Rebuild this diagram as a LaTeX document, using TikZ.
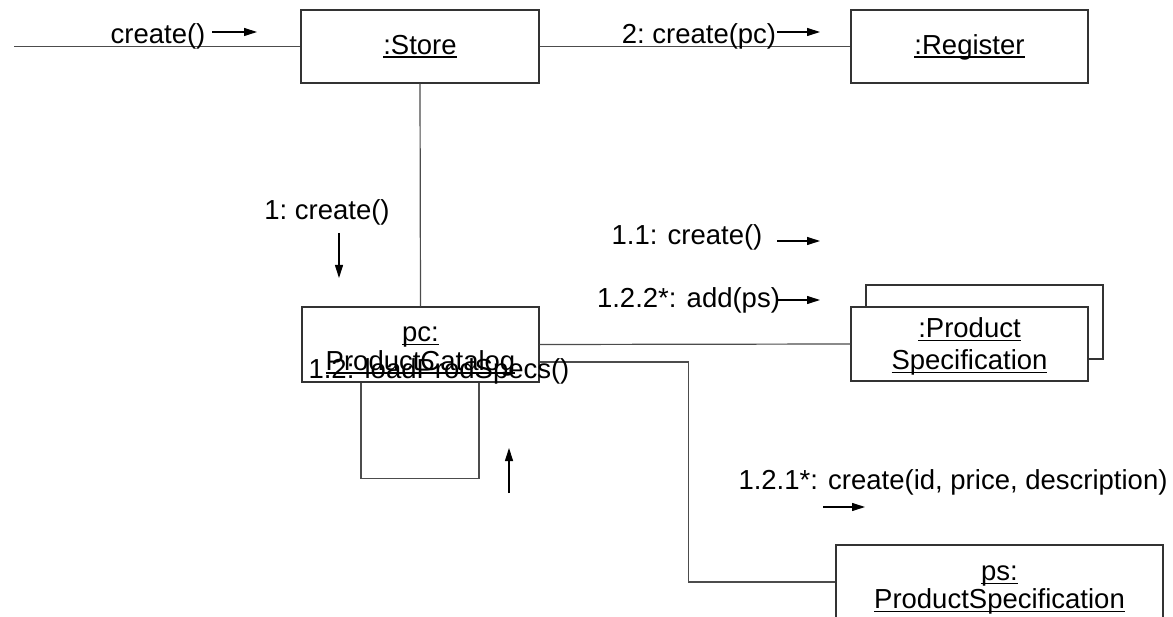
\documentclass[tikz,border=0pt]{standalone}
\usepackage{fontspec}
\setmainfont{Liberation Sans}
\usetikzlibrary{arrows.meta}

% object names are underlined at a fixed depth, through the descenders
\newcommand{\objname}[1]{\leavevmode\setbox0=\hbox{#1}\rlap{\rule[-3.5pt]{\wd0}{1.3pt}}\box0}
% name lowered a little inside its box (the box keeps its size)
\newcommand{\lowered}[2]{\raisebox{#1}[\height][\depth]{\begin{tabular}{@{}c@{}}#2\end{tabular}}}

\begin{document}
\begin{tikzpicture}[x=1pt, y=-1pt,
    every node/.style={font=\fontsize{27.5}{28}\selectfont, inner sep=0pt},
    obj/.style={draw=black!80, fill=white, line width=1.2pt, align=center},
    link/.style={draw=black!70, line width=1.2pt},
    msg/.style={-{Triangle[length=13pt,width=8pt]}, line width=1.1pt}]
    \useasboundingbox (0,0) rectangle (1173,617);

    % objects
    \node[obj, minimum width=238, minimum height=73] (store) at (420,46.5) {\lowered{-2pt}{\objname{:Store}}};
    \node[obj, minimum width=237, minimum height=73] (register) at (969.5,46.5) {\lowered{-2pt}{\objname{:Register}}};
    \node[obj, minimum width=237, minimum height=75] (pc) at (420.5,344.5)
        {\lowered{-6pt}{\objname{pc:}\\\objname{ProductCatalog}}};
    \node[obj, minimum width=237, minimum height=74] (specback) at (984.5,322) {};
    \node[obj, minimum width=237, minimum height=74] (spec) at (969.5,344)
        {\lowered{-4pt}{\objname{:Product}\\[4pt]\objname{Specification}}};
    \node[obj, minimum width=327, minimum height=74] (ps) at (999.5,582)
        {\lowered{-7pt}{\objname{ps:}\\\objname{ProductSpecification}}};

    % links
    \coordinate (start) at (14,46.5);
    \draw[link] (start) -- (store.west);
    \draw[link] (store.east) -- (register.west);
    \draw[link] (store.south) -- (pc.north);
    \draw[link] (pc.east) -- (spec.west);
    \draw[link] ([yshift=-17.5pt]pc.east) -- ++(149,0) |- (ps.west);
    % self link of the catalog
    \draw[link] ([xshift=-59.5pt]pc.south) -- ++(0,96) -| ([xshift=58.5pt]pc.south);

    % messages
    \node (m0) at (158,36) {create()};
    \draw[msg] (212,32) -- (257,32);
    \node (m2) at (699,36) {2:~create(pc)};
    \draw[msg] (777,32) -- (820,32);
    \node (m1) at (327,212) {1:~create()};
    \draw[msg] (339,233) -- (339,278);
    \node (m11) at (687,237) {1.1: create()};
    \draw[msg] (777,241) -- (820,241);
    \node (m122) at (688.5,300) {1.2.2*: add(ps)};
    \draw[msg] (778,300) -- (820,300);
    \node (m12) at (439,371) {1.2: loadProdSpecs()};
    \draw[msg] (509,493) -- (509,448);
    \node (m121) at (953,482) {1.2.1*: create(id, price, description)};
    \draw[msg] (823,507) -- (865,507);
\end{tikzpicture}
\end{document}
